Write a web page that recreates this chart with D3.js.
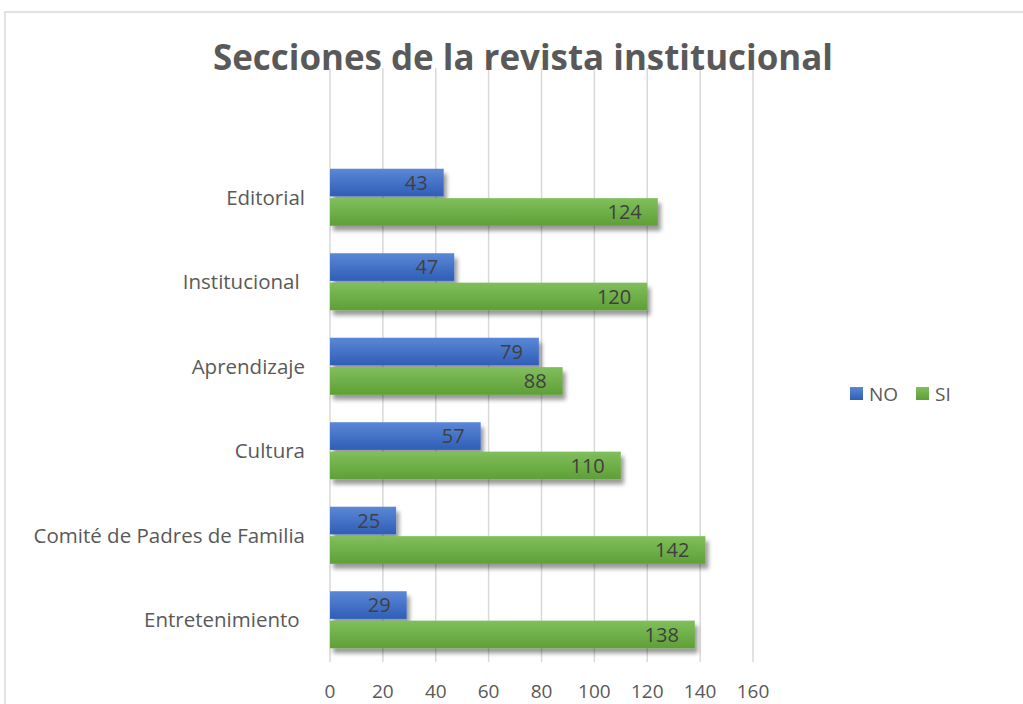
<!DOCTYPE html>
<html lang="es">
<head>
    <meta charset="utf-8">
    <title>Secciones de la revista institucional</title>
    <style>
        body {
            margin: 0;
            background: #fff;
        }
        svg text {
            font-family: "Open Sans", "Liberation Sans", sans-serif;
            white-space: pre;
        }
    </style>
</head>
<body>
    <svg id="chart" width="1023" height="704"></svg>

    <script src="https://d3js.org/d3.v7.min.js"></script>
    <script>
        // Data (top to bottom)
        const categories = ["Editorial", "Institucional ", "Aprendizaje", "Cultura", "Comité de Padres de Familia", "Entretenimiento "];
        const seriesNames = ["NO", "SI"];
        const noValues = [43, 47, 79, 57, 25, 29];
        const siValues = [124, 120, 88, 110, 142, 138];
        const xTicks = [0, 20, 40, 60, 80, 100, 120, 140, 160];

        const svg = d3.select("#chart");
        const defs = svg.append("defs");

        // Gradients like the Excel bar fill
        [["NO", "#5b87d6", "#2f5eb7"], ["SI", "#80bf5c", "#5f9f36"]].forEach(([k, c1, c2]) => {
            const g = defs.append("linearGradient")
                .attr("id", "grad-" + k)
                .attr("x1", 0).attr("y1", 0).attr("x2", 0).attr("y2", 1);
            g.append("stop").attr("offset", "0%").attr("stop-color", c1);
            g.append("stop").attr("offset", "100%").attr("stop-color", c2);
        });

        const shadow = defs.append("filter")
            .attr("id", "shadow")
            .attr("x", "-5%").attr("y", "-30%")
            .attr("width", "115%").attr("height", "180%");
        shadow.append("feDropShadow")
            .attr("dx", 3).attr("dy", 5)
            .attr("stdDeviation", 2)
            .attr("flood-color", "#000")
            .attr("flood-opacity", 0.4);

        // chart border (runs past the right and bottom of the window)
        svg.append("rect")
            .attr("x", 5).attr("y", 12)
            .attr("width", 1100).attr("height", 800)
            .attr("fill", "#fff")
            .attr("stroke", "#d9d9d9")
            .attr("stroke-width", 1.5);

        const x = d3.scaleLinear().domain([0, 160]).range([330, 753]);

        const y0 = d3.scaleBand()
            .domain(categories)
            .range([155, 662])
            .paddingInner(0.325)
            .paddingOuter(0.1625);

        const y1 = d3.scaleBand()
            .domain(seriesNames)
            .range([0, y0.bandwidth()])
            .paddingInner(0.06);

        // Gridlines
        svg.append("g")
            .selectAll("line")
            .data(xTicks)
            .join("line")
            .attr("x1", d => x(d)).attr("x2", d => x(d))
            .attr("y1", 68).attr("y2", 662)
            .attr("stroke", "#d9d9d9")
            .attr("stroke-width", 1.5);

        // Tick labels
        svg.append("g")
            .selectAll("text")
            .data(xTicks)
            .join("text")
            .attr("x", d => x(d))
            .attr("y", 698)
            .attr("text-anchor", "middle")
            .attr("font-size", 19)
            .attr("fill", "#595959")
            .text(d => d);

        const rows = categories.map((c, i) => ({ cat: c, NO: noValues[i], SI: siValues[i] }));

        const groups = svg.append("g")
            .selectAll("g")
            .data(rows)
            .join("g")
            .attr("transform", d => `translate(0,${y0(d.cat)})`);

        const bars = groups.selectAll("g.bar")
            .data(d => seriesNames.map(k => ({ key: k, value: d[k] })))
            .join("g")
            .attr("class", "bar");

        bars.append("rect")
            .attr("x", x(0))
            .attr("y", d => y1(d.key))
            .attr("width", d => x(d.value) - x(0))
            .attr("height", y1.bandwidth())
            .attr("fill", d => `url(#grad-${d.key})`)
            .attr("filter", "url(#shadow)");

        bars.append("text")
            .attr("x", d => x(d.value) - 16)
            .attr("y", d => y1(d.key) + y1.bandwidth() / 2)
            .attr("dy", "0.36em")
            .attr("text-anchor", "end")
            .attr("font-size", 20)
            .attr("fill", "#404040")
            .text(d => d.value);

        // Category labels
        svg.append("g")
            .selectAll("text")
            .data(categories)
            .join("text")
            .attr("x", 305)
            .attr("y", d => y0(d) + y0.bandwidth() / 2)
            .attr("dy", "0.36em")
            .attr("text-anchor", "end")
            .attr("font-size", 20.5)
            .attr("fill", "#595959")
            .text(d => d);

        // Title
        svg.append("text")
            .attr("x", 523)
            .attr("y", 70)
            .attr("text-anchor", "middle")
            .attr("font-size", 36)
            .attr("font-weight", "bold")
            .attr("fill", "#595959")
            .attr("textLength", 620)
            .attr("lengthAdjust", "spacingAndGlyphs")
            .text("Secciones de la revista institucional");

        // Legend
        const legend = svg.append("g")
            .selectAll("g")
            .data(seriesNames)
            .join("g")
            .attr("transform", (d, i) => `translate(${[850, 916][i]},387)`);

        legend.append("rect")
            .attr("width", 13).attr("height", 13)
            .attr("fill", d => `url(#grad-${d})`);

        legend.append("text")
            .attr("x", 19)
            .attr("y", 7)
            .attr("dy", "0.36em")
            .attr("font-size", 19)
            .attr("fill", "#595959")
            .text(d => d);
    </script>
</body>
</html>
